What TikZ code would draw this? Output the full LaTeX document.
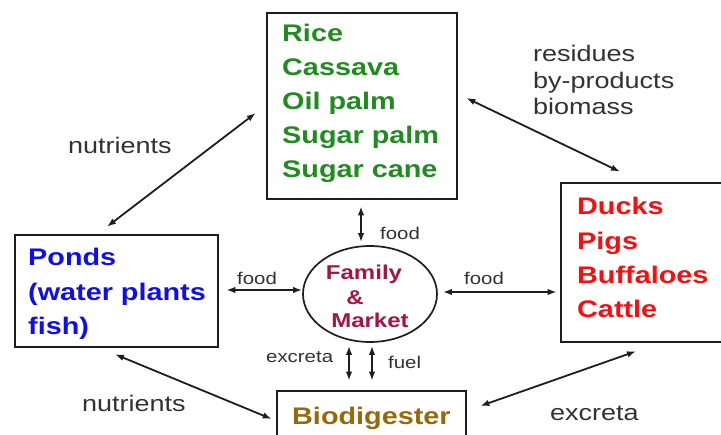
\documentclass[tikz,border=0pt]{standalone}
\usepackage{fontspec}
\setmainfont{Liberation Sans}[FakeStretch=1.2]
\usetikzlibrary{arrows.meta,shapes.geometric}
\definecolor{cropgreen}{RGB}{32,140,32}
\definecolor{pondblue}{RGB}{15,15,235}
\definecolor{animred}{RGB}{245,15,15}
\definecolor{fammaroon}{RGB}{165,20,70}
\definecolor{biobrown}{RGB}{150,105,10}
\definecolor{labelgray}{RGB}{50,50,50}
\definecolor{edgedark}{RGB}{30,30,30}
\tikzset{
  boxshape/.style={draw=edgedark, line width=2.6pt, rectangle, inner sep=0pt},
  boxtext/.style={font=\fontsize{24}{28}\selectfont\bfseries, inner sep=0pt, anchor=base west},
  famtext/.style={font=\fontsize{20}{24}\selectfont\bfseries, text=fammaroon, inner sep=0pt, anchor=base},
  biglabel/.style={font=\fontsize{22.5}{26}\selectfont, text=labelgray, inner sep=0pt, anchor=base west},
  smalllabel/.style={font=\fontsize{17}{20}\selectfont, text=labelgray, inner sep=0pt, anchor=base west},
  link/.style={draw=edgedark, line width=1.8pt, {Latex[length=9pt,width=6.5pt]}-{Latex[length=9pt,width=6.5pt]}}
}
\begin{document}
\begin{tikzpicture}[x=1pt,y=-1pt]
\clip (0,0) rectangle (721,435);
\fill[white] (0,0) rectangle (721,435);
% boxes
\node[boxshape, minimum width=190pt, minimum height=186pt] (crops) at (362,106) {};
\node[boxshape, minimum width=203pt, minimum height=112pt] (ponds) at (116.5,291) {};
\node[boxshape, minimum width=170pt, minimum height=159pt] (animals) at (646,262.5) {};
\node[boxshape, minimum width=189pt, minimum height=60pt] (bio) at (371.5,421) {};
\node[draw=edgedark, line width=1.7pt, ellipse, minimum width=134pt, minimum height=96pt, inner sep=0pt] (fam) at (370,294) {};
% box texts
\foreach \t [count=\i] in {{Rice},{Cassava},{Oil palm},{Sugar palm},{Sugar cane}}
  \node[boxtext, text=cropgreen] (crop\i) at (282,{42+34*(\i-1)}) {\t};
\foreach \t [count=\i] in {{Ponds},{(water plants},{fish)}}
  \node[boxtext, text=pondblue] (pond\i) at (28,{266+34.5*(\i-1)}) {\t};
\foreach \t [count=\i] in {{Ducks},{Pigs},{Buffaloes},{Cattle}}
  \node[boxtext, text=animred] (anim\i) at (577,{215+34.3*(\i-1)}) {\t};
\node[boxtext, text=biobrown] (biotxt) at (292,425) {Biodigester};
\node[famtext] (fam1) at (364,280) {Family};
\node[famtext] (fam2) at (355,305) {\&};
\node[famtext] (fam3) at (370,328) {Market};
% labels
\node[biglabel] (lnutr1) at (68,154) {nutrients};
\node[biglabel] (lres1) at (533,62) {residues};
\node[biglabel] (lres2) at (533,88.5) {by-products};
\node[biglabel] (lres3) at (533,115) {biomass};
\node[biglabel] (lnutr2) at (82,412) {nutrients};
\node[biglabel] (lexc2) at (550,421) {excreta};
\node[smalllabel] (lfood1) at (237,285) {food};
\node[smalllabel] (lfood2) at (464,285) {food};
\node[smalllabel] (lfood3) at (380,240) {food};
\node[smalllabel] (lexc1) at (266,363) {excreta};
\node[smalllabel] (lfuel) at (388,369) {fuel};
% connectors
\draw[link] ([xshift=-10pt,yshift=-7pt]crops.west) -- ([xshift=-9.5pt,yshift=7pt]ponds.north);
\draw[link] ([xshift=8pt,yshift=8pt]crops.east) -- ([xshift=-26pt,yshift=10pt]animals.north);
\draw[link] ([xshift=7pt,yshift=1pt]ponds.east) -- ([yshift=4pt]fam.west);
\draw[link] ([xshift=5pt,yshift=2pt]fam.east) -- ([xshift=-3pt,yshift=-29.5pt]animals.west);
\draw[link] ([xshift=-1pt,yshift=-6pt]crops.south) -- ([xshift=-9pt,yshift=3pt]fam.north);
\draw[link] ([xshift=-21pt,yshift=-3pt]fam.south) -- ([xshift=-22.5pt,yshift=9pt]bio.north);
\draw[link] ([xshift=2pt,yshift=-3pt]fam.south) -- ([xshift=0.5pt,yshift=9pt]bio.north);
\draw[link] ([xshift=-1.5pt,yshift=-6pt]ponds.south) -- ([xshift=-4pt,yshift=2pt]bio.west);
\draw[link] ([xshift=-10pt,yshift=-8pt]animals.south) -- ([xshift=13pt,yshift=15pt]bio.east);
\end{tikzpicture}
\end{document}
